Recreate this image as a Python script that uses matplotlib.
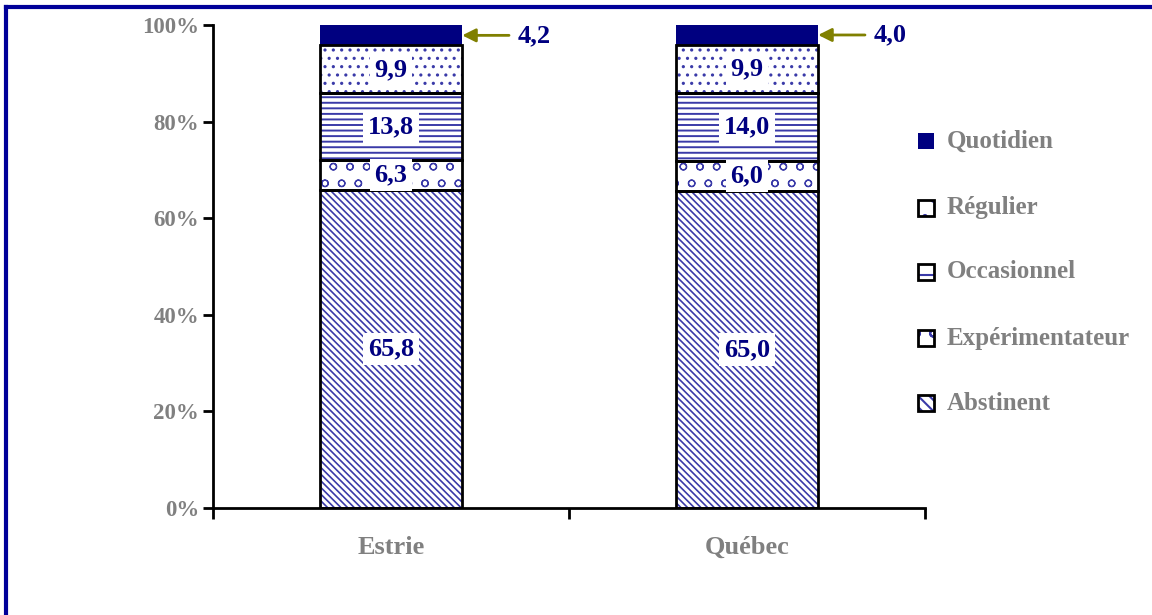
import matplotlib
matplotlib.use("Agg")
import matplotlib.pyplot as plt
import numpy as np
from matplotlib.lines import Line2D

plt.rcParams['font.family'] = ['Liberation Serif', 'DejaVu Serif']

regions = ["Estrie", "Québec"]
series = ["Abstinent", "Expérimentateur", "Occasionnel", "Régulier", "Quotidien"]
abstinent = [65.8, 65.0]
experimentateur = [6.3, 6.0]
occasionnel = [13.8, 14.0]
regulier = [9.9, 9.9]
quotidien = [4.2, 4.0]
value_labels = [["65,8", "6,3", "13,8", "9,9", "4,2"],
                ["65,0", "6,0", "14,0", "9,9", "4,0"]]
yticklabels = ["0%", "20%", "40%", "60%", "80%", "100%"]

data = np.array([abstinent, experimentateur, occasionnel, regulier, quotidien])
totals = data.sum(axis=0)
pct = data / totals * 100

navy = "#000080"
hatch_col = "#3a3aa8"
grey = "#808080"
olive = "#808000"
hatches = ["\\\\\\\\\\", "o", "---", "..", None]
hatch_lw = [1.2, 0.9, 1.4, 1.1, 1.0]

fig = plt.figure(figsize=(11.52, 6.15), dpi=100)
ax = fig.add_axes([0.1849, 0.174, 0.618, 0.785])

x = np.arange(len(regions))
width = 0.4
bottom = np.zeros(len(regions))
for i, name in enumerate(series):
    if hatches[i] is None:
        ax.bar(x, pct[i], width, bottom=bottom, color=navy, edgecolor=navy, linewidth=0, zorder=2)
    else:
        with plt.rc_context({'hatch.linewidth': hatch_lw[i]}):
            ax.bar(x, pct[i], width, bottom=bottom, color="white", edgecolor=hatch_col,
                   hatch=hatches[i], linewidth=0, zorder=2)
        ax.bar(x, pct[i], width, bottom=bottom, fill=False, edgecolor="black", linewidth=2, zorder=3)
    bottom += pct[i]

# labels
cum = np.cumsum(pct, axis=0)
for j in range(len(regions)):
    for i in range(4):
        ymid = cum[i, j] - pct[i, j] / 2
        ax.text(x[j], ymid, value_labels[j][i], ha="center", va="center", fontsize=19,
                fontweight="bold", color=navy, zorder=5,
                bbox=dict(boxstyle="square,pad=0.18", facecolor="white", edgecolor="none"))
    ymid = cum[4, j] - pct[4, j] / 2
    ax.annotate(value_labels[j][4], xy=(x[j] + width / 2, ymid), xytext=(x[j] + width / 2 + 0.155, ymid),
                ha="left", va="center", fontsize=19, fontweight="bold", color=navy,
                arrowprops=dict(arrowstyle="-|>", color=olive, lw=2, mutation_scale=20,
                                shrinkA=4, shrinkB=0), zorder=5)

ax.set_xlim(-0.5, 1.5)
ax.set_ylim(0, 100)
ax.set_yticks(np.arange(0, 101, 20))
ax.set_yticklabels(yticklabels, fontsize=16.5, fontweight="bold", color=grey)
ax.set_xticks(x)
ax.set_xticklabels(regions, fontsize=19, fontweight="bold", color=grey)
ax.tick_params(axis="x", which="major", length=0, pad=20)
ax.set_xticks([-0.5, 0.5, 1.5], minor=True)
ax.tick_params(axis="x", which="minor", length=8, width=2, direction="out")
ax.tick_params(axis="y", length=7, width=2, direction="out", pad=3)
for s in ["top", "right"]:
    ax.spines[s].set_visible(False)
for s in ["left", "bottom"]:
    ax.spines[s].set_linewidth(2)
    ax.spines[s].set_zorder(4)

# legend
leg_hatch = [None, ".", "-", "o", "\\\\\\"]
leg_names = ["Quotidien", "Régulier", "Occasionnel", "Expérimentateur", "Abstinent"]
ys = [141, 208, 272, 338, 403]
for k, (nm, yy) in enumerate(zip(leg_names, ys)):
    fy = 1 - yy / 615
    fx = 918 / 1152
    sw, sh = 16 / 1152, 16 / 615
    if k == 0:
        r = plt.Rectangle((fx, fy - sh / 2), sw, sh, transform=fig.transFigure,
                          facecolor=navy, edgecolor=navy, linewidth=0)
        fig.add_artist(r)
    else:
        with plt.rc_context({'hatch.linewidth': 1.5}):
            r = plt.Rectangle((fx, fy - sh / 2), sw, sh, transform=fig.transFigure,
                              facecolor="white", edgecolor=hatch_col, hatch=leg_hatch[k], linewidth=0)
        fig.add_artist(r)
        r2 = plt.Rectangle((fx, fy - sh / 2), sw, sh, transform=fig.transFigure,
                           fill=False, edgecolor="black", linewidth=2)
        fig.add_artist(r2)
    fig.text(fx + 29 / 1152, fy, nm, fontsize=18, fontweight="bold", color=grey,
             ha="left", va="center")

# outer border (clipped on right and bottom)
fig.add_artist(Line2D([6 / 1152, 6 / 1152], [0, 1 - 7 / 615], transform=fig.transFigure,
                      color="#000099", linewidth=3))
fig.add_artist(Line2D([6 / 1152, 1], [1 - 7 / 615, 1 - 7 / 615], transform=fig.transFigure,
                      color="#000099", linewidth=3))

fig.savefig("out.png", dpi=100)
